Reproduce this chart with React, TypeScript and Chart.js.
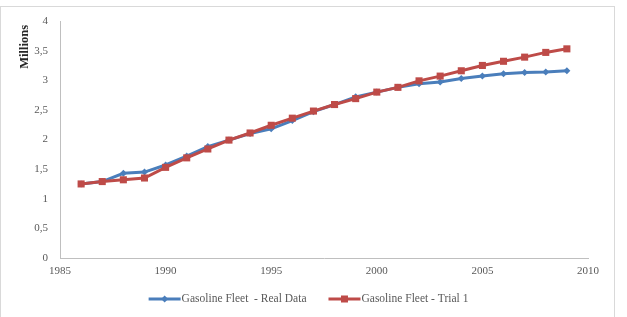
import React, { useEffect, useRef } from "react";
import { Chart, registerables } from "chart.js";

Chart.register(...registerables);

const years = [
  1986, 1987, 1988, 1989, 1990, 1991, 1992, 1993, 1994, 1995, 1996, 1997,
  1998, 1999, 2000, 2001, 2002, 2003, 2004, 2005, 2006, 2007, 2008, 2009,
];

const realData = [
  1.25, 1.29, 1.43, 1.45, 1.57, 1.72, 1.88, 1.99, 2.1, 2.18, 2.32, 2.47,
  2.59, 2.72, 2.8, 2.88, 2.94, 2.97, 3.03, 3.07, 3.11, 3.13, 3.14, 3.16,
];

const trial1 = [
  1.25, 1.29, 1.32, 1.35, 1.53, 1.69, 1.84, 1.99, 2.11, 2.24, 2.36, 2.48,
  2.59, 2.69, 2.8, 2.88, 2.99, 3.07, 3.16, 3.25, 3.32, 3.39, 3.47, 3.53,
];

const seriesLabels = ["Gasoline Fleet  - Real Data", "Gasoline Fleet - Trial 1"];
const yTitle = "Millions";

const BLUE = "#4A7EBB";
const RED = "#BE4B48";
const TEXT = "#595959";
const FONT = "'Liberation Serif', 'Times New Roman', serif";

// Light frame around the whole chart
const framePlugin = {
  id: "frame",
  beforeDraw(chart: any) {
    const ctx = chart.ctx;
    ctx.save();
    ctx.fillStyle = "#ffffff";
    ctx.fillRect(0, 0, chart.width, chart.height);
    ctx.strokeStyle = "#d9d9d9";
    ctx.lineWidth = 1;
    ctx.strokeRect(0.5, 6.5, 614, chart.height + 10);
    ctx.restore();
  },
};

// Vertical axis title, placed near the top of the value axis
const yTitlePlugin = {
  id: "yTitle",
  afterDraw(chart: any) {
    const ctx = chart.ctx;
    const top = chart.chartArea.top;
    ctx.save();
    ctx.translate(25, top + 4);
    ctx.rotate(-Math.PI / 2);
    ctx.font = `bold 12.5px ${FONT}`;
    ctx.fillStyle = "#262626";
    ctx.textAlign = "right";
    ctx.textBaseline = "middle";
    ctx.fillText(yTitle, 0, 0);
    ctx.restore();
  },
};

// Bottom legend: a short line with the series marker, then the label
const legendPlugin = {
  id: "lineLegend",
  afterDraw(chart: any) {
    const ctx = chart.ctx;
    const ds = chart.data.datasets;
    ctx.save();
    ctx.font = `11.5px ${FONT}`;
    ctx.textBaseline = "middle";
    ctx.textAlign = "left";
    const lineW = 32;
    const gap = 1;
    const spacing = 22;
    const widths = ds.map((d: any) => lineW + gap + ctx.measureText(d.label).width);
    const total = widths.reduce((a: number, b: number) => a + b, 0) + spacing * (ds.length - 1);
    let x = 308.5 - total / 2;
    const y = 299;
    ds.forEach((d: any, i: number) => {
      ctx.strokeStyle = d.borderColor;
      ctx.lineWidth = 3;
      ctx.beginPath();
      ctx.moveTo(x, y);
      ctx.lineTo(x + lineW, y);
      ctx.stroke();
      ctx.fillStyle = d.borderColor;
      const cx = x + lineW / 2;
      if (d.pointStyle === "rect") {
        ctx.fillRect(cx - 3.5, y - 3.5, 7, 7);
      } else {
        ctx.beginPath();
        ctx.moveTo(cx, y - 3.5);
        ctx.lineTo(cx + 3.5, y);
        ctx.lineTo(cx, y + 3.5);
        ctx.lineTo(cx - 3.5, y);
        ctx.closePath();
        ctx.fill();
      }
      ctx.fillStyle = TEXT;
      ctx.fillText(d.label, x + lineW + gap, y);
      x += widths[i] + spacing;
    });
    ctx.restore();
  },
};

export default function App() {
  const canvasRef = useRef<HTMLCanvasElement | null>(null);

  useEffect(() => {
    if (!canvasRef.current) return;
    const chart = new Chart(canvasRef.current, {
      type: "line",
      data: {
        datasets: [
          {
            label: seriesLabels[0],
            data: years.map((x, i) => ({ x, y: realData[i] })),
            borderColor: BLUE,
            backgroundColor: BLUE,
            borderWidth: 3,
            pointStyle: "rectRot",
            pointRadius: 3.5,
            pointBorderWidth: 0,
            tension: 0,
            order: 1,
          },
          {
            label: seriesLabels[1],
            data: years.map((x, i) => ({ x, y: trial1[i] })),
            borderColor: RED,
            backgroundColor: RED,
            borderWidth: 3,
            pointStyle: "rect",
            pointRadius: 5,
            pointBorderWidth: 0,
            tension: 0,
            order: 0,
          },
        ],
      },
      options: {
        animation: false,
        responsive: false,
        devicePixelRatio: 1,
        layout: { padding: { top: 21, right: 39, bottom: 0, left: 0 } },
        plugins: {
          legend: { display: false },
          tooltip: { enabled: false },
        },
        scales: {
          x: {
            type: "linear",
            min: 1985,
            max: 2010,
            ticks: {
              stepSize: 5,
              color: TEXT,
              font: { family: FONT, size: 11 },
              padding: 7,
              maxRotation: 0,
              callback: (v: any) => String(v),
            },
            grid: { display: false, drawTicks: false },
            border: { display: true, color: "#bfbfbf", width: 1 },
            afterFit: (scale: any) => {
              scale.height = 59;
            },
          },
          y: {
            min: 0,
            max: 4,
            ticks: {
              stepSize: 0.5,
              color: TEXT,
              font: { family: FONT, size: 11 },
              padding: 12,
              callback: (v: any) => String(v).replace(".", ","),
            },
            grid: { display: false, drawTicks: false },
            border: { display: true, color: "#bfbfbf", width: 1 },
            afterFit: (scale: any) => {
              scale.width = 60;
            },
          },
        },
      },
      plugins: [framePlugin, yTitlePlugin, legendPlugin],
    });
    return () => chart.destroy();
  }, []);

  return (
    <div style={{ position: "fixed", left: 0, top: 0, width: 627, height: 317, background: "#fff" }}>
      <canvas ref={canvasRef} width={627} height={317} style={{ display: "block" }} />
    </div>
  );
}
